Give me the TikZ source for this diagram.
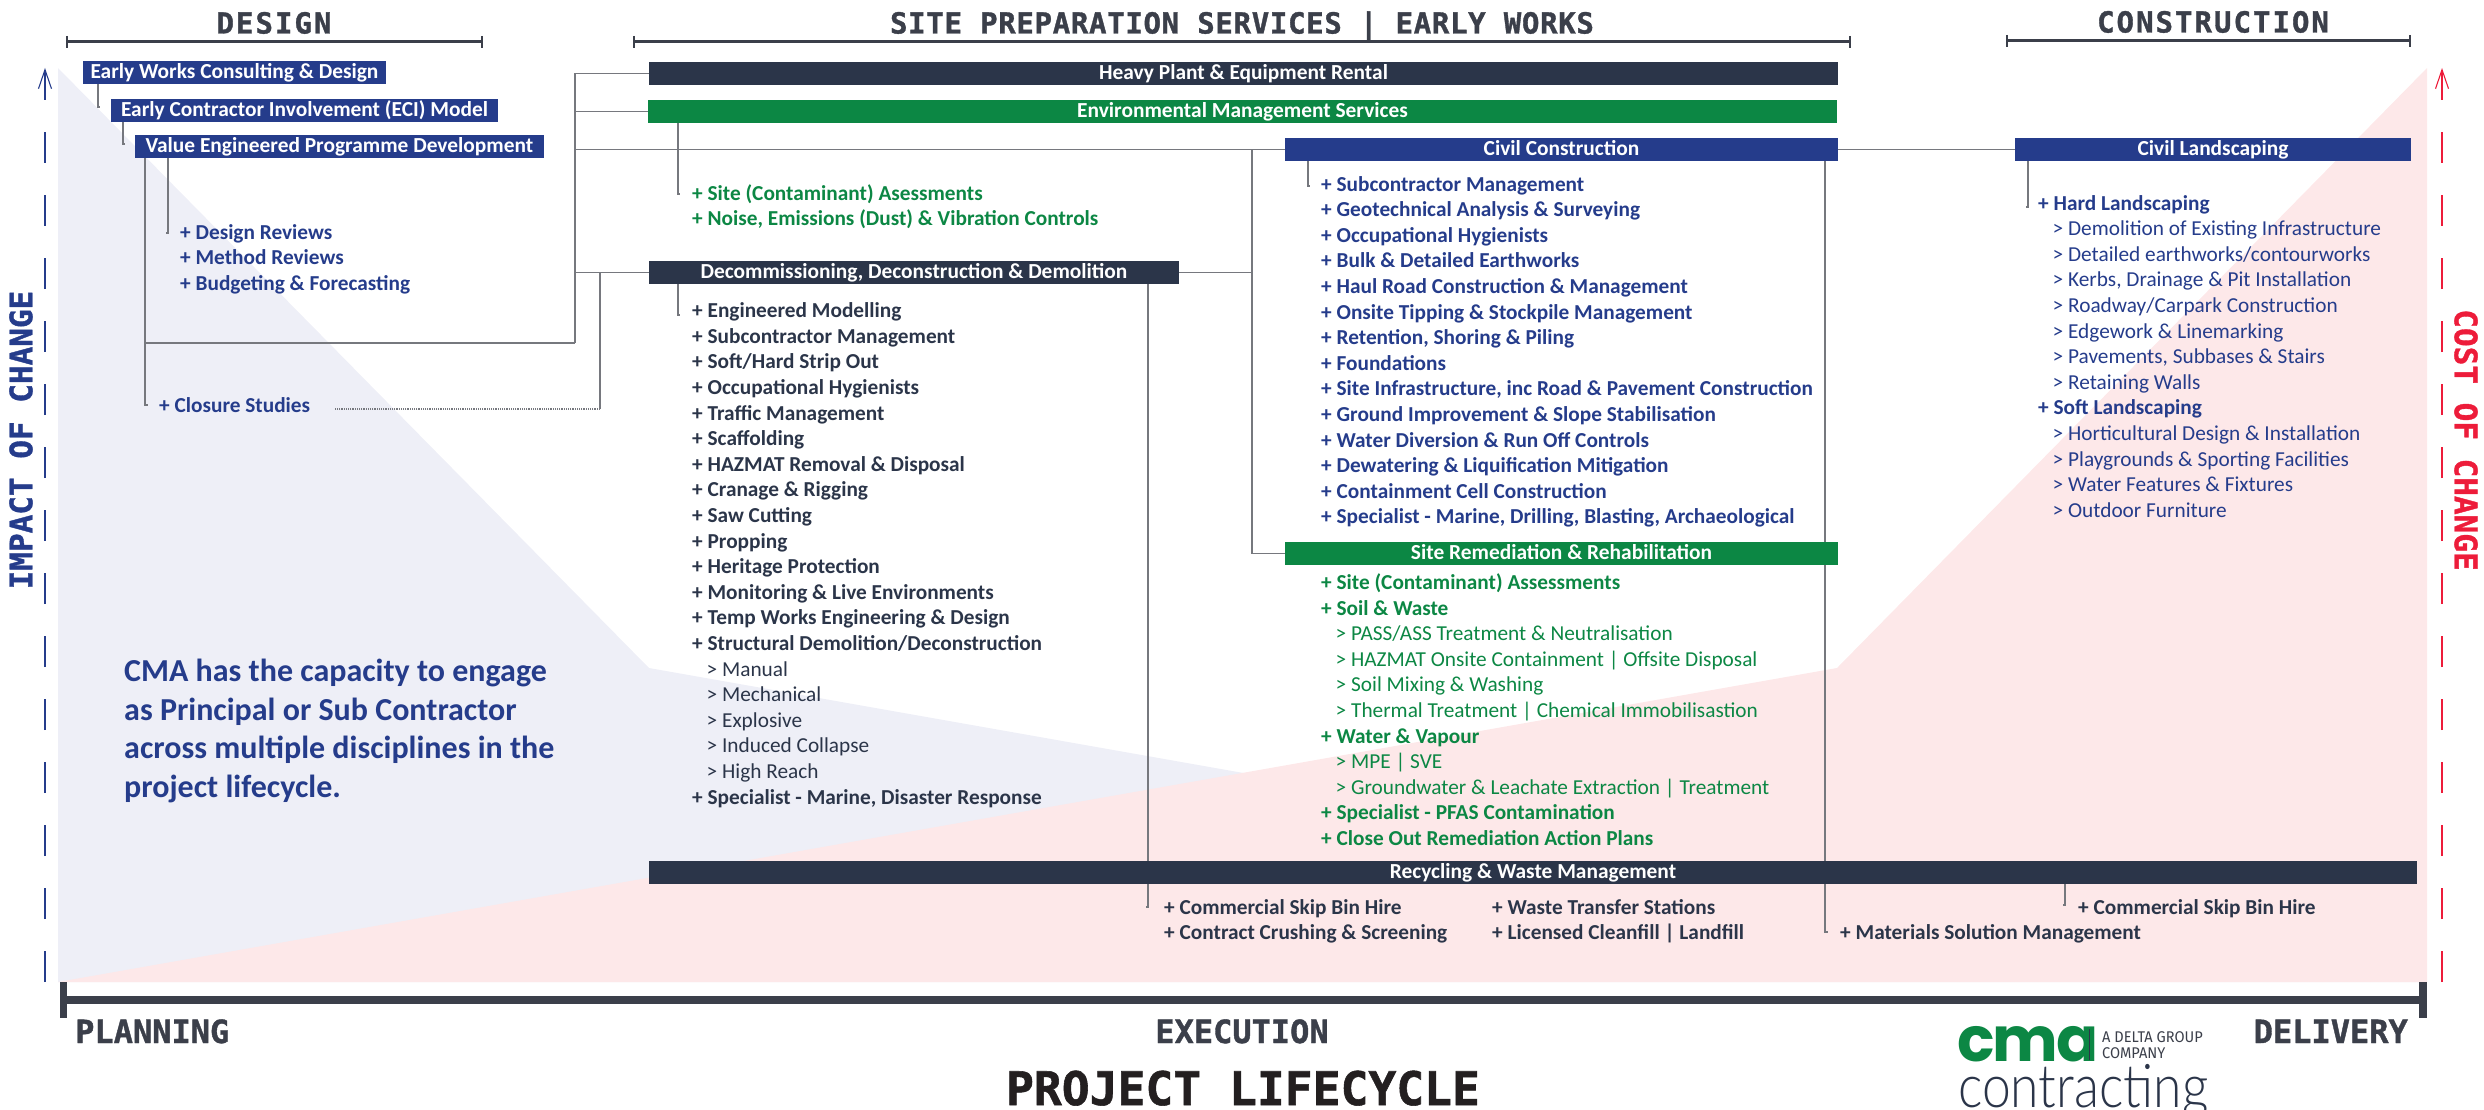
\documentclass[tikz,border=0pt]{standalone}
\usepackage{fontspec}
\usetikzlibrary{arrows.meta}
\setmainfont{Carlito}
\newfontfamily\headf[LetterSpace=7,BoldFeatures={FakeBold=1.2}]{DejaVu Sans Mono}
\newfontfamily\sitef[LetterSpace=2.4,BoldFeatures={FakeBold=1.2}]{DejaVu Sans Mono}
\newfontfamily\sidef[BoldFeatures={FakeBold=1.2}]{DejaVu Sans Mono}
\newfontfamily\cmaf[LetterSpace=-3]{Poppins}
\newfontfamily\grpf[FakeStretch=0.94]{Fira Sans}
\newfontfamily\lgf[FakeStretch=0.86]{Lato Light}
\definecolor{cblue}{HTML}{253C8B}
\definecolor{cgreen}{HTML}{0C8744}
\definecolor{cdark}{HTML}{2B3549}
\definecolor{chead}{HTML}{3B3F4A}
\definecolor{ctitle}{HTML}{231F20}
\definecolor{cline}{HTML}{76787E}
\definecolor{bgblue}{HTML}{EEEFF7}
\definecolor{bgred}{HTML}{FDE8E9}
\definecolor{cred}{HTML}{ED1C3A}
\pgfdeclarelayer{bgl}\pgfdeclarelayer{conl}
\pgfsetlayers{bgl,conl,main}
\newcommand\subit[1]{\hspace*{14.5pt}{\mdseries #1}}
\tikzset{
 x=1pt,y=-1pt,
 bar/.style={inner sep=0pt,minimum height=23pt,text=white,
   font=\fontsize{21.4}{24}\selectfont\bfseries,text height=16pt,text depth=4pt},
 listtext/.style={anchor=north west,inner sep=0pt,align=left,
   font=\fontsize{21.3}{25.6}\selectfont\bfseries},
 conn/.style={draw=cline,line width=1.4pt},
 hd/.style={anchor=base,inner sep=0pt,text=chead,font=\headf\fontsize{29}{30}\selectfont\bfseries},
 hdb/.style={inner sep=0pt,text=chead,font=\sidef\fontsize{32}{33}\selectfont\bfseries},
 brk/.style={draw=chead,line width=3pt},
 brkend/.style={draw=chead,line width=2pt},
}
\begin{document}
\begin{tikzpicture}
\useasboundingbox (0,0) rectangle (2484,1110);
\begin{pgfonlayer}{bgl}
 \fill[bgblue] (58,68) -- (649,668) -- (2427,982) -- (58,982) -- cycle;
 \fill[bgred] (58,982) -- (1837,668) -- (2427,68) -- (2427,982) -- cycle;
\end{pgfonlayer}
% headings
\node[hd] (hdesign) at (274,33.5) {DESIGN};
\node[hd,font=\sitef\fontsize{29}{30}\selectfont\bfseries] (hsite) at (1242,33.5) {SITE PREPARATION SERVICES | EARLY WORKS};
\node[hd] (hcons) at (2213,32.5) {CONSTRUCTION};
\coordinate (bd1) at (67,42); \coordinate (bd2) at (482,42);
\coordinate (bs1) at (634,42); \coordinate (bs2) at (1850,42);
\coordinate (bc1) at (2007,41); \coordinate (bc2) at (2410,41);
\foreach \a/\b in {bd1/bd2,bs1/bs2,bc1/bc2}{
  \draw[brk] (\a) -- (\b);
  \draw[brkend] (\a) ++(0,-6) -- ++(0,12);
  \draw[brkend] (\b) ++(0,-6) -- ++(0,12);
}
% side arrows
\coordinate (la0) at (45,982); \coordinate (la1) at (45,132); \coordinate (la2) at (45,100); \coordinate (la3) at (45,68);
\draw[cblue,line width=1.2pt,dash pattern=on 31pt off 32pt] (la0) -- (la1);
\draw[cblue,line width=1.1pt,-{Straight Barb[length=19pt,width=13pt,line width=1.1pt]}] (la2) -- (la3);
\coordinate (ra0) at (2442,982); \coordinate (ra1) at (2442,132); \coordinate (ra2) at (2442,100); \coordinate (ra3) at (2442,68);
\draw[cred,line width=1.2pt,dash pattern=on 31pt off 32pt] (ra0) -- (ra1);
\draw[cred,line width=1.1pt,-{Straight Barb[length=19pt,width=13pt,line width=1.1pt]}] (ra2) -- (ra3);
\node[rotate=90,inner sep=0pt,text=cblue,font=\sidef\fontsize{31}{34}\selectfont\bfseries] (impact) at (21,440) {IMPACT OF CHANGE};
\node[rotate=-90,inner sep=0pt,text=cred,font=\sidef\fontsize{31}{34}\selectfont\bfseries] (cost) at (2466,440) {COST OF CHANGE};
% design boxes
\node[bar,fill=cblue,minimum width=303pt] (b1) at (234.5,72.5) {Early Works Consulting \& Design};
\node[bar,fill=cblue,minimum width=387pt] (b2) at (304.5,110.5) {Early Contractor Involvement (ECI) Model};
\node[bar,fill=cblue,minimum width=409pt] (b3) at (339.5,146.5) {Value Engineered Programme Development};
\node[bar,fill=cdark,minimum width=1189pt] (heavy) at (1243.5,73.5) {Heavy Plant \& Equipment Rental};
\node[bar,fill=cgreen,minimum width=1189pt] (env) at (1242.5,111.5) {Environmental Management Services};
\node[bar,fill=cblue,minimum width=553pt] (civil) at (1561.5,149.5) {Civil Construction};
\node[bar,fill=cblue,minimum width=396pt] (land) at (2213,149.5) {Civil Landscaping};
\node[bar,fill=cdark,minimum width=530pt] (decom) at (914,272.5) {Decommissioning, Deconstruction \& Demolition};
\node[bar,fill=cgreen,minimum width=553pt] (remed) at (1561.5,553.5) {Site Remediation \& Rehabilitation};
\node[bar,fill=cdark,minimum width=1768pt] (recy) at (1533,872.5) {Recycling \& Waste Management};
% lists
\node[listtext,text=cblue] (ldesign) at (180,224) {+ Design Reviews\\+ Method Reviews\\+ Budgeting \& Forecasting};
\node[listtext,text=cblue] (lclosure) at (159,397) {+ Closure Studies};
\node[listtext,text=cgreen] (lenv) at (692,184) {+ Site (Contaminant) Asessments\\+ Noise, Emissions (Dust) \& Vibration Controls};
\node[listtext,text=cdark] (ldecom) at (692,302.5) {+ Engineered Modelling\\+ Subcontractor Management\\+ Soft/Hard Strip Out\\+ Occupational Hygienists\\+ Traffic Management\\+ Scaffolding\\+ HAZMAT Removal \& Disposal\\+ Cranage \& Rigging\\+ Saw Cutting\\+ Propping\\+ Heritage Protection\\+ Monitoring \& Live Environments\\+ Temp Works Engineering \& Design\\+ Structural Demolition/Deconstruction\\\subit{> Manual}\\\subit{> Mechanical}\\\subit{> Explosive}\\\subit{> Induced Collapse}\\\subit{> High Reach}\\+ Specialist - Marine, Disaster Response};
\node[listtext,text=cblue] (lcivil) at (1321,176) {+ Subcontractor Management\\+ Geotechnical Analysis \& Surveying\\+ Occupational Hygienists\\+ Bulk \& Detailed Earthworks\\+ Haul Road Construction \& Management\\+ Onsite Tipping \& Stockpile Management\\+ Retention, Shoring \& Piling\\+ Foundations\\+ Site Infrastructure, inc Road \& Pavement Construction\\+ Ground Improvement \& Slope Stabilisation\\+ Water Diversion \& Run Off Controls\\+ Dewatering \& Liquification Mitigation\\+ Containment Cell Construction\\+ Specialist - Marine, Drilling, Blasting, Archaeological};
\node[listtext,text=cgreen] (lremed) at (1321,573.5) {+ Site (Contaminant) Assessments\\+ Soil \& Waste\\\subit{> PASS/ASS Treatment \& Neutralisation}\\\subit{> HAZMAT Onsite Containment | Offsite Disposal}\\\subit{> Soil Mixing \& Washing}\\\subit{> Thermal Treatment | Chemical Immobilisastion}\\+ Water \& Vapour\\\subit{> MPE | SVE}\\\subit{> Groundwater \& Leachate Extraction | Treatment}\\+ Specialist - PFAS Contamination\\+ Close Out Remediation Action Plans};
\node[listtext,text=cblue] (lland) at (2038,195) {+ Hard Landscaping\\\subit{> Demolition of Existing Infrastructure}\\\subit{> Detailed earthworks/contourworks}\\\subit{> Kerbs, Drainage \& Pit Installation}\\\subit{> Roadway/Carpark Construction}\\\subit{> Edgework \& Linemarking}\\\subit{> Pavements, Subbases \& Stairs}\\\subit{> Retaining Walls}\\+ Soft Landscaping\\\subit{> Horticultural Design \& Installation}\\\subit{> Playgrounds \& Sporting Facilities}\\\subit{> Water Features \& Fixtures}\\\subit{> Outdoor Furniture}};
\node[listtext,text=cdark] (lrec1) at (1164,899) {+ Commercial Skip Bin Hire\\+ Contract Crushing \& Screening};
\node[listtext,text=cdark] (lrec2) at (1492,899) {+ Waste Transfer Stations\\+ Licensed Cleanfill | Landfill};
\node[listtext,text=cdark] (lrec3) at (1840,924) {+ Materials Solution Management};
\node[listtext,text=cdark] (lrec4) at (2078,899) {+ Commercial Skip Bin Hire};
\node[anchor=north west,inner sep=0pt,align=left,text=cblue,font=\fontsize{32}{38.5}\selectfont\bfseries] (cmatext) at (124,659) {CMA has the capacity to engage\\as Principal or Sub Contractor\\across multiple disciplines in the\\project lifecycle.};
% connectors
\coordinate (c1) at (98,107); \coordinate (c2) at (123,144); \coordinate (c3) at (145,405); \coordinate (c4) at (168,233);
\coordinate (jl) at (145,343); \coordinate (jm) at (575,343);
\coordinate (jn) at (600,272); \coordinate (jn1) at (600,409); \coordinate (dots) at (334,409);
\coordinate (ce) at (678,194); \coordinate (cd) at (678,315); \coordinate (cd2) at (1148,907);
\coordinate (jv) at (1252,150); \coordinate (jv2) at (1252,553);
\coordinate (cc) at (1308,186); \coordinate (cmat) at (1825,932); \coordinate (cl) at (2028,207); \coordinate (cr) at (2065,905);
\begin{pgfonlayer}{conl}
 \draw[conn] (c1 |- b1.south) -- (c1) -- ++(2,0);
 \draw[conn] (c2 |- b2.south) -- (c2) -- ++(2,0);
 \draw[conn] (c3 |- b3.south) -- (c3) -- ++(3,0);
 \draw[conn] (c4 |- b3.south) -- (c4) -- ++(-2,0);
 \draw[conn] (jl) -- (jm);
 \draw[conn] (jm) -- (jm |- heavy.west) -- (heavy.west);
 \draw[conn] (jm |- env.west) -- (env.west);
 \draw[conn] (jm |- civil.west) -- (civil.west);
 \draw[conn] (jm |- decom.west) -- (decom.west);
 \draw[conn] (jn |- decom.west) -- (jn1);
 \draw[draw=cline,line width=1.2pt,densely dotted] (jn1) -- (dots);
 \draw[conn] (ce |- env.south) -- (ce) -- ++(2,0);
 \draw[conn] (cd |- decom.south) -- (cd) -- ++(2,0);
 \draw[conn] (cd2 |- decom.south) -- (cd2) -- ++(-2,0);
 \draw[conn] (decom.east) -- (jv |- decom.east);
 \draw[conn] (jv) -- (jv2 |- remed.west) -- (remed.west);
 \draw[conn] (cc |- civil.south) -- (cc) -- ++(2,0);
 \draw[conn] (cmat |- civil.south) -- (cmat) -- ++(3,0);
 \draw[conn] (civil.east) -- (land.west);
 \draw[conn] (cl |- land.south) -- (cl) -- ++(-2,0);
 \draw[conn] (cr |- recy.south) -- (cr) -- ++(-2,0);
\end{pgfonlayer}
% bottom axis
\coordinate (ax1) at (63.5,1000); \coordinate (ax2) at (2423,1000);
\draw[chead,line width=8pt] (ax1) -- (ax2);
\draw[chead,line width=7.5pt] (ax1) ++(0,-18) -- ++(0,36);
\draw[chead,line width=8pt] (ax2) ++(0,-18) -- ++(0,36);
\node[hdb,anchor=base west] (plan) at (75,1043) {PLANNING};
\node[hdb,anchor=base] (exec) at (1242,1043) {EXECUTION};
\node[hdb,anchor=base east] (deliv) at (2408,1043) {DELIVERY};
\node[anchor=base,inner sep=0pt,text=ctitle,font=\sidef\fontsize{46.3}{48}\selectfont\bfseries] (title) at (1243,1105) {PROJECT LIFECYCLE};
% logo
\node[anchor=base west,inner sep=0pt,text=cgreen,font=\cmaf\fontsize{62}{62}\selectfont\bfseries] (cma) at (1957,1061) {cma};
\coordinate (dv1) at (2089,1029); \coordinate (dv2) at (2089,1060);
\draw[cdark,line width=1pt] (dv1) -- (dv2);
\node[anchor=west,inner sep=0pt,text=chead,font=\grpf\fontsize{15.5}{16}\selectfont] (grp1) at (2102,1037) {A DELTA GROUP};
\node[anchor=west,inner sep=0pt,text=chead,font=\grpf\fontsize{15.5}{16}\selectfont] (grp2) at (2102,1053) {COMPANY};
\node[anchor=base west,inner sep=0pt,text=cdark,font=\lgf\fontsize{60}{60}\selectfont] (contr) at (1958,1107) {contracting};
\end{tikzpicture}
\end{document}
